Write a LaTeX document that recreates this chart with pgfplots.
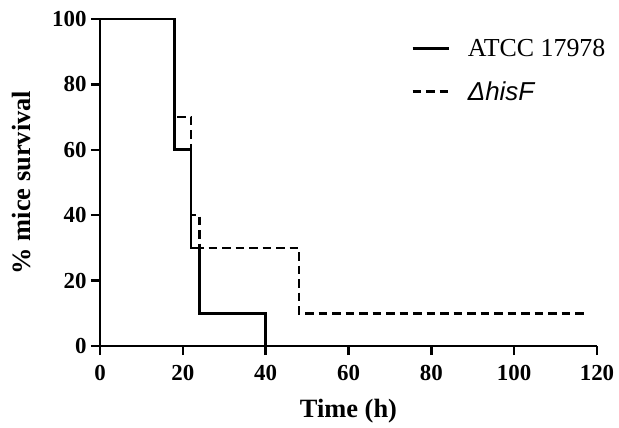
\documentclass[border=0pt]{standalone}
\usepackage{fontspec}
\setmainfont{Liberation Serif}
\setsansfont{Liberation Sans}
\usepackage{pgfplots}
\pgfplotsset{compat=1.18}
\begin{document}
\begin{tikzpicture}
\useasboundingbox (-100bp,-82bp) rectangle (519bp,346bp);
\begin{axis}[
  scale only axis,
  width=497bp, height=327bp,
  at={(0,0)}, anchor=south west,
  xmin=0, xmax=120, ymin=0, ymax=100,
  axis x line*=bottom, axis y line*=left,
  axis line style={-, line width=2.5bp},
  xtick={0,20,...,120}, ytick={0,20,...,100},
  tick align=outside, major tick length=9bp,
  tick style={line width=2.5bp, black},
  /pgf/number format/assume math mode=true,
  ticklabel style={font=\bfseries\fontsize{23}{23}\selectfont},
  xticklabel style={yshift=-7bp},
  yticklabel style={xshift=-1bp},
  xlabel={Time (h)}, ylabel={\% mice survival},
  label style={font=\bfseries\fontsize{26.5}{27}\selectfont},
  xlabel style={yshift=-11bp},
  ylabel style={yshift=14bp},
  clip=false,
  legend style={draw=none, fill=none, at={(rel axis cs:0.62,0.952)}, anchor=north west,
    font=\fontsize{26}{30}\selectfont, row sep=20bp, cells={anchor=west},
    /tikz/every odd column/.append style={column sep=16bp}},
  legend image code/.code={\draw[#1] (0bp,0bp) -- (36bp,0bp);},
]
\addplot[const plot, black, line width=2.6bp] coordinates {
  (0,100) (18,60) (22,30) (24,10) (40,0)
};
\addlegendentry{ATCC 17978}
\addplot[const plot, black, line width=2.6bp, dash pattern=on 8.5bp off 5bp] coordinates {
  (0,100) (18,70) (22,40) (24,30) (48,10) (117,10)
};
\addlegendentry{{\sffamily\itshape ΔhisF}}
\end{axis}
\end{tikzpicture}
\end{document}
